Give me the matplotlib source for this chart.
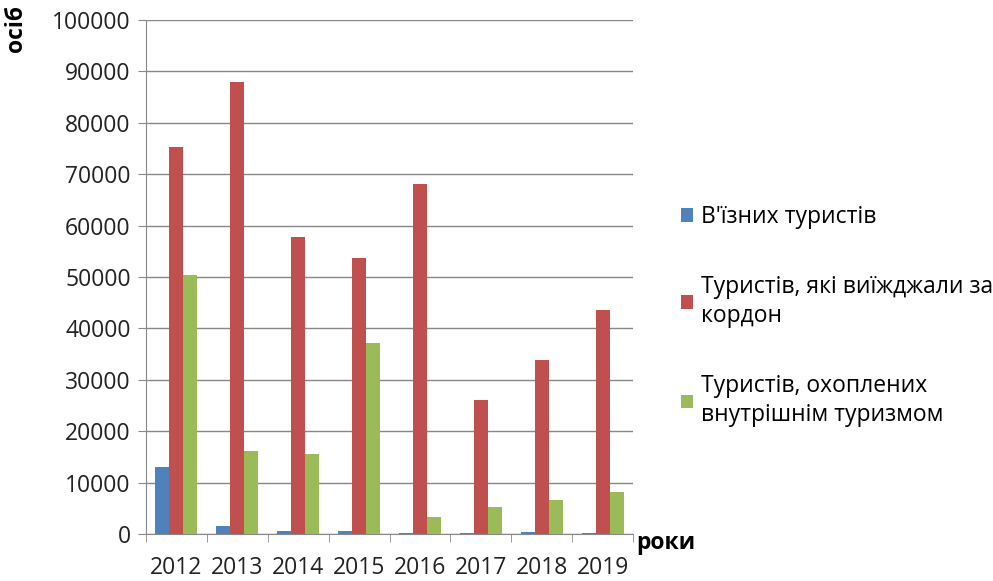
import matplotlib
matplotlib.use("Agg")
import matplotlib.pyplot as plt
import numpy as np

years = ["2012", "2013", "2014", "2015", "2016", "2017", "2018", "2019"]
inbound = [13000, 1500, 500, 600, 100, 200, 300, 250]
outbound = [75300, 87900, 57800, 53700, 68100, 26100, 33800, 43600]
domestic = [50300, 16100, 15600, 37200, 3300, 5300, 6700, 8200]
series_labels = ["В'їзних туристів", "Туристів, які виїжджали за\nкордон",
                 "Туристів, охоплених\nвнутрішнім туризмом"]
colors = ["#4F81BD", "#C0504D", "#9BBB59"]

plt.rcParams['font.family'] = ['Open Sans', 'DejaVu Sans']

fig = plt.figure(figsize=(9.93, 5.81), dpi=100)
ax = fig.add_axes([146/993, 1 - 534/581, (633-146)/993, (534-20)/581])

x = np.arange(len(years))
w = 0.23
handles = []
for i, (vals, c, lab) in enumerate(zip([inbound, outbound, domestic], colors, series_labels)):
    b = ax.bar(x + (i - 1) * w, vals, width=w, color=c, label=lab, zorder=3)
    handles.append(b)

fs = 16.5
ax.set_xlim(-0.5, len(years) - 0.5)
ax.set_ylim(0, 100000)
ax.set_yticks(np.arange(0, 100001, 10000))
ax.set_yticklabels([str(v) for v in range(0, 100001, 10000)], fontsize=fs, color="#222222")
ax.set_xticks(x)
ax.set_xticklabels(years, fontsize=fs, color="#222222")
ax.set_xticks(np.arange(-0.5, len(years), 1), minor=True)
ax.tick_params(axis='x', which='major', length=0, pad=16)
ax.tick_params(axis='x', which='minor', length=6, color="#888888")
ax.tick_params(axis='y', length=6, color="#888888", pad=5)
ax.grid(axis='y', color="#888888", linewidth=1, zorder=0)
for s in ['top', 'right']:
    ax.spines[s].set_visible(False)
ax.spines['left'].set_color("#888888")
ax.spines['bottom'].set_color("#888888")

fig.text(636/993, 1 - 543/581, "роки", fontsize=fs, fontweight='bold', ha='left', va='center')
fig.text(16/993, 1 - 28/581, "осіб", fontsize=fs, fontweight='bold', rotation=90, ha='center', va='center')

leg = fig.legend(handles=handles, labels=series_labels, loc='center left',
                 bbox_to_anchor=(660/993, 1 - 316/581), frameon=False, fontsize=fs,
                 handlelength=0.55, handleheight=0.55, handletextpad=0.35, labelspacing=2.0)
for t in leg.get_texts():
    t.set_linespacing(1.3)

fig.savefig("out.png", dpi=100)
